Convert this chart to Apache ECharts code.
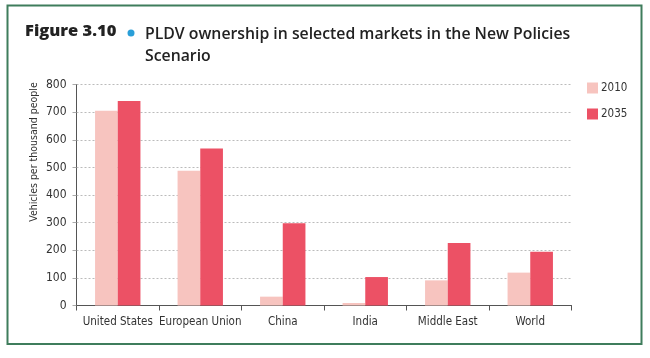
<!DOCTYPE html>
<html>
<head>
<meta charset="utf-8">
<script src="https://cdn.jsdelivr.net/npm/echarts@6/dist/echarts.min.js"></script>
<style>
html,body{margin:0;padding:0;background:#fff;}
#c{width:650px;height:358px;}
</style>
</head>
<body>
<div id="c"></div>
<script>
const categories = ['United States', 'European Union', 'China', 'India', 'Middle East', 'World'];
const values2010 = [705, 488, 32, 9, 91, 119];
const values2035 = [740, 568, 298, 103, 226, 195];
const yTicks = [0, 100, 200, 300, 400, 500, 600, 700, 800];

const chart = echarts.init(document.getElementById('c'), null, {renderer: 'canvas'});
const condensed = '"DejaVu Sans Condensed", "Liberation Sans Narrow", sans-serif';
chart.setOption({
  backgroundColor: '#ffffff',
  animation: false,
  grid: {left: 76.5, right: 78.5, top: 84.5, bottom: 52.5},
  legend: {
    orient: 'vertical', left: 582, top: 77,
    itemWidth: 11, itemHeight: 11, itemGap: 14,
    icon: 'rect',
    textStyle: {fontFamily: condensed, fontSize: 11.5, color: '#333', padding: [0, 0, 0, -2]},
    data: ['2010', '2035']
  },
  xAxis: {
    type: 'category', data: categories,
    axisLine: {lineStyle: {color: '#555', width: 1}},
    axisTick: {show: true, length: 5, lineStyle: {color: '#555'}},
    axisLabel: {interval: 0, fontFamily: condensed, fontSize: 11.5, color: '#333', margin: 11}
  },
  yAxis: {
    type: 'value', min: yTicks[0], max: yTicks[yTicks.length - 1], interval: 100,
    axisLine: {show: true, lineStyle: {color: '#555', width: 1}},
    axisTick: {show: true, length: 4, lineStyle: {color: '#aaa'}},
    axisLabel: {fontFamily: condensed, fontSize: 12, color: '#333', margin: 10},
    splitLine: {show: true, lineStyle: {color: '#bbb', type: [2, 2], width: 1}}
  },
  series: [
    {name: '2010', type: 'bar', data: values2010, barGap: '0%', barCategoryGap: '45%',
     itemStyle: {color: '#f7c4bf'}},
    {name: '2035', type: 'bar', data: values2035, barGap: '0%', barCategoryGap: '45%',
     itemStyle: {color: '#ec5165'}}
  ],
  graphic: [
    {type: 'rect', shape: {x: 7.5, y: 5.5, width: 634, height: 338.5},
     style: {fill: 'none', stroke: '#3f7d5c', lineWidth: 2}, silent: true},
    {type: 'text', left: 25, top: 23,
     style: {text: 'Figure 3.10', font: '800 16.5px "Open Sans", sans-serif', fill: '#222'}},
    {type: 'circle', shape: {cx: 131, cy: 33, r: 3.5}, style: {fill: '#2a9fd8'}},
    {type: 'text', left: 145, top: 23,
     style: {text: 'PLDV ownership in selected markets in the New Policies\nScenario',
             font: '600 15.8px "Open Sans", sans-serif', fill: '#222', lineHeight: 22}},
    {type: 'text', x: 34, y: 152, rotation: Math.PI / 2,
     style: {text: 'Vehicles per thousand people', font: '10.5px ' + condensed, fill: '#333',
             align: 'center', verticalAlign: 'middle'}}
  ]
});
</script>
</body>
</html>
